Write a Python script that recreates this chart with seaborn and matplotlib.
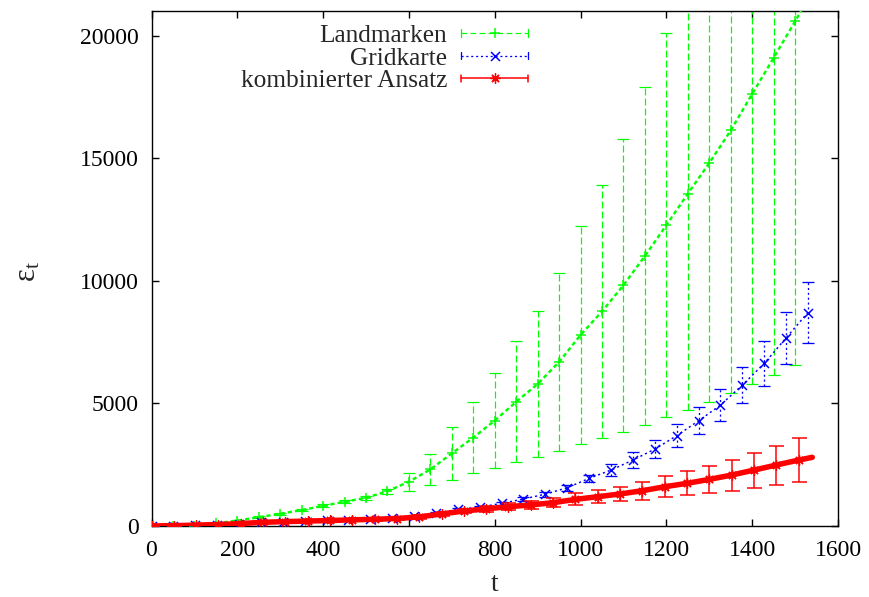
import matplotlib
matplotlib.use('Agg')
import matplotlib.pyplot as plt
import seaborn as sns
from matplotlib.lines import Line2D
from matplotlib.legend_handler import HandlerBase

# ---------------- data ----------------
land_t = [0, 50, 100, 150, 200, 250, 300, 350, 400, 450, 500, 550, 600, 650, 700,
          750, 800, 850, 900, 950, 1000, 1050, 1100, 1150, 1200, 1250, 1300, 1350,
          1400, 1450, 1500]
land_y = [0, 5, 20, 110, 220, 360, 500, 650, 820, 990, 1150, 1420, 1805, 2310, 2960,
          3605, 4300, 5065, 5790, 6690, 7790, 8750, 9820, 11010, 12270, 13550, 14800,
          16130, 17620, 19090, 20580]
land_err = [0, 0, 3, 10, 20, 30, 40, 50, 60, 70, 80, 100, 375, 630, 1080,
            1460, 1950, 2470, 2990, 3630, 4440, 5170, 5980, 6880, 7820, 8800, 9730,
            10700, 11810, 12950, 14020]
land_tail_t = [1550]     # curve continues above the top of the frame
land_tail_y = [22100]

grid_t = [0, 51, 102, 153, 204, 255, 306, 357, 408, 459, 510, 561, 612, 663, 714,
          765, 816, 867, 918, 969, 1020, 1071, 1122, 1173, 1224, 1275, 1326, 1377,
          1428, 1479, 1530]
grid_y = [0, 15, 35, 60, 100, 150, 180, 200, 230, 260, 290, 330, 420, 520, 680,
          770, 924, 1100, 1300, 1560, 1942, 2281, 2688, 3136, 3680, 4289, 4929, 5743,
          6627, 7670, 8705]
grid_err = [0, 2, 5, 8, 10, 15, 18, 20, 25, 28, 30, 35, 40, 45, 50, 60, 70, 80, 100,
            120, 157, 240, 338, 373, 476, 556, 645, 746, 900, 1071, 1243]

komb_t = [0, 52, 104, 156, 208, 260, 312, 364, 416, 468, 520, 572, 624, 676, 728,
          780, 832, 884, 936, 988, 1040, 1092, 1144, 1196, 1248, 1300, 1352, 1404,
          1456, 1508]
komb_y = [0, 15, 35, 60, 100, 150, 180, 200, 225, 250, 275, 305, 370, 490, 610, 700,
          786, 860, 950, 1085, 1195, 1305, 1440, 1600, 1740, 1900, 2077, 2280, 2485,
          2688]
komb_err = [0, 5, 10, 15, 25, 35, 40, 45, 50, 55, 60, 70, 80, 90, 100, 110, 136, 155,
            178, 244, 270, 305, 373, 420, 489, 556, 631, 713, 795, 904]
komb_tail_t = [1540]     # thick curve runs a little past the last point
komb_tail_y = [2800]

labels = ["Landmarken", "Gridkarte", "kombinierter Ansatz"]
x_ticks = [0, 200, 400, 600, 800, 1000, 1200, 1400, 1600]
y_ticks = [0, 5000, 10000, 15000, 20000]

# ---------------- style ----------------
sns.set_theme(style="ticks")
plt.rcParams.update({
    "font.family": ["Liberation Serif", "DejaVu Serif"],
    "mathtext.fontset": "custom",
    "mathtext.rm": "Liberation Serif",
    "mathtext.it": "Liberation Serif",
    "lines.scale_dashes": False,
    "axes.edgecolor": "black",
    "axes.linewidth": 1.0,
})
PX = 0.72
FS = 17
LFS = 18.3
GREEN, BLUE, RED = "#00ff00", "#0000ff", "#ff0000"

W, H = 869, 597
fig = plt.figure(figsize=(W / 100, H / 100), dpi=100)
L, R, T, B = 151.5, 838, 11, 526
ax = fig.add_axes([L / W, 1 - B / H, (R - L) / W, (B - T) / H])

# Landmarken
eb = ax.errorbar(land_t, land_y, yerr=land_err, fmt="none", ecolor=GREEN,
                 elinewidth=1.2 * PX, capsize=6 * PX, capthick=1.2 * PX, zorder=2)
eb[2][0].set_linestyle((0, (5, 2.2)))
sns.lineplot(x=land_t + land_tail_t, y=land_y + land_tail_y, ax=ax, color=GREEN,
             linewidth=2.4 * PX, linestyle=(0, (3, 2.2)), sort=False,
             estimator=None, zorder=3)
ax.plot(land_t, land_y, linestyle="none", marker="+", ms=10 * PX, mew=1.5 * PX,
        color=GREEN, zorder=4)

# Gridkarte
eb = ax.errorbar(grid_t, grid_y, yerr=grid_err, fmt="none", ecolor=BLUE,
                 elinewidth=1.3 * PX, capsize=6 * PX, capthick=1.3 * PX, zorder=5)
eb[2][0].set_linestyle((0, (1.5, 2)))
sns.lineplot(x=grid_t, y=grid_y, ax=ax, color=BLUE, linewidth=1.5 * PX,
             linestyle=(0, (1.5, 2.2)), sort=False, estimator=None, zorder=6)
ax.plot(grid_t, grid_y, linestyle="none", marker="x", ms=9 * PX, mew=1.5 * PX,
        color=BLUE, zorder=7)

# kombinierter Ansatz
ax.errorbar(komb_t, komb_y, yerr=komb_err, fmt="none", ecolor=RED,
            elinewidth=1.5 * PX, capsize=7.5 * PX, capthick=1.5 * PX, zorder=8)
ax.plot(komb_t, komb_y, linestyle="none", marker=(8, 2, 0), ms=10 * PX, mew=1.3 * PX,
        color=RED, zorder=9)
sns.lineplot(x=komb_t + komb_tail_t, y=komb_y + komb_tail_y, ax=ax, color=RED,
             linewidth=5.5 * PX, sort=False, estimator=None, zorder=10)

ax.set_xlim(0, 1600)
ax.set_ylim(0, 21000)
ax.set_xticks(x_ticks)
ax.set_yticks(y_ticks)
ax.tick_params(direction="in", length=7 * PX, width=1.0, top=True, right=True,
               labelsize=FS, colors="black")
ax.tick_params(axis="x", pad=10)
ax.tick_params(axis="y", pad=9)
for s in ax.spines.values():
    s.set_visible(True)
    s.set_color("black")

ax.set_xlabel("t", fontsize=20)
ax.set_ylabel(r"$\mathrm{ε}_{\mathrm{t}}$", fontsize=22)
ax.xaxis.set_label_coords((495 - L) / (R - L), (B - 572) / (B - T))
ax.yaxis.set_label_coords((43 - L) / (R - L), (B - 272) / (B - T))


class GnuKey(HandlerBase):
    def __init__(self, color, ls, lw, marker, ms, mew):
        super().__init__()
        self.c, self.ls, self.lw = color, ls, lw
        self.m, self.ms, self.mew = marker, ms, mew

    def create_artists(self, legend, orig_handle, xdescent, ydescent, width,
                       height, fontsize, trans):
        y = height / 2 - ydescent
        x0 = -xdescent
        x1 = x0 + width
        cap = 2.6
        arts = [
            Line2D([x0, x1], [y, y], color=self.c, lw=self.lw, linestyle=self.ls),
            Line2D([x0, x0], [y - cap, y + cap], color=self.c, lw=self.lw),
            Line2D([x1, x1], [y - cap, y + cap], color=self.c, lw=self.lw),
            Line2D([(x0 + x1) / 2], [y], marker=self.m, ms=self.ms, mew=self.mew,
                   color=self.c, linestyle="none"),
        ]
        for a in arts:
            a.set_transform(trans)
        return arts


h1, h2, h3 = Line2D([], []), Line2D([], []), Line2D([], [])
hmap = {
    h1: GnuKey(GREEN, (0, (4, 2.5)), 1.2 * PX, "+", 10 * PX, 1.5 * PX),
    h2: GnuKey(BLUE, (0, (1.5, 2)), 1.3 * PX, "x", 9 * PX, 1.5 * PX),
    h3: GnuKey(RED, "-", 1.5 * PX, (8, 2, 0), 10 * PX, 1.3 * PX),
}
fs_px = LFS / 72 * 100
leg = ax.legend([h1, h2, h3], labels, handler_map=hmap, loc="upper right",
                bbox_to_anchor=((528 - L) / (R - L), (B - 24) / (B - T)),
                frameon=False, markerfirst=False, fontsize=LFS,
                handlelength=67 / fs_px, handletextpad=14 / fs_px,
                labelspacing=0.0, borderpad=0, borderaxespad=0)

fig.savefig("out.png", dpi=100)
